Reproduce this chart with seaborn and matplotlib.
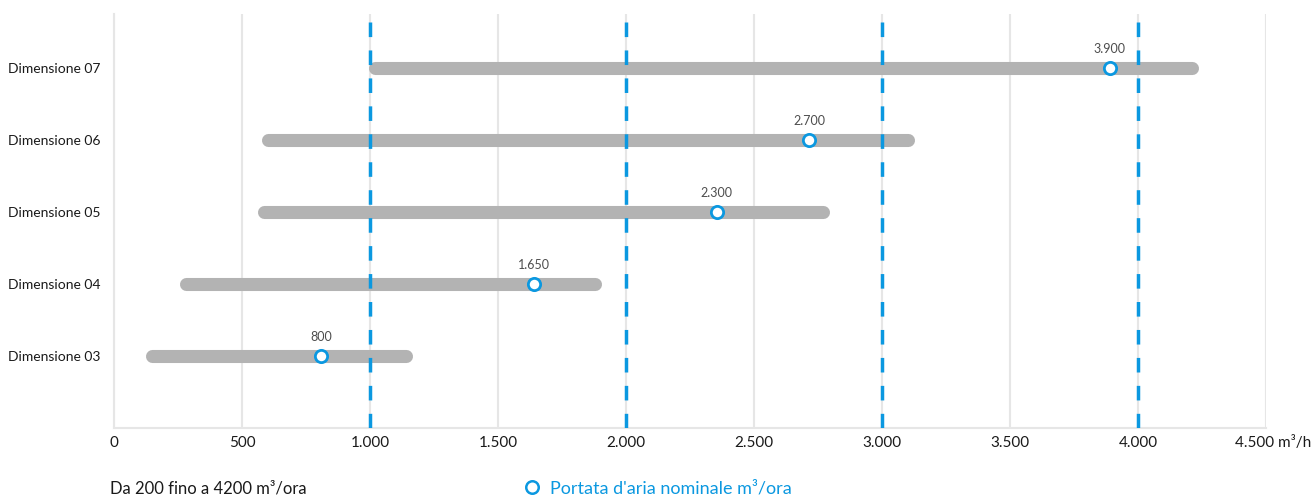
import numpy as np
import pandas as pd
import matplotlib
matplotlib.use("Agg")
import matplotlib.pyplot as plt
import matplotlib.transforms as mtransforms
from matplotlib.lines import Line2D
import seaborn as sns

# ---- data ----
categories = ["Dimensione 07", "Dimensione 06", "Dimensione 05", "Dimensione 04", "Dimensione 03"]
range_min = [1020, 600, 585, 280, 150]
range_max = [4210, 3100, 2770, 1880, 1140]
nominal = [3890, 2715, 2355, 1640, 810]
nominal_labels = ["3.900", "2.700", "2.300", "1.650", "800"]
ref_lines = [1000, 2000, 3000, 4000]
xticks = [0, 500, 1000, 1500, 2000, 2500, 3000, 3500, 4000, 4500]
xtick_labels = ["0", "500", "1.000", "1.500", "2.000", "2.500", "3.000", "3.500", "4.000", "4.500 m³/h"]
range_text = "Da 200 fino a 4200 m³/ora"
legend_text = "Portata d'aria nominale m³/ora"

BLUE = "#0b98e0"
BAR = "#b3b3b3"
GRID = "#e6e6e6"
TEXT = "#1a1a1a"

sns.set_style("white")
plt.rcParams["font.family"] = ["Lato", "DejaVu Sans"]

df = pd.DataFrame({"cat": categories, "lo": range_min, "hi": range_max,
                   "nom": nominal, "lab": nominal_labels})
df["pos"] = np.arange(len(df))

fig = plt.figure(figsize=(13.16, 4.96), dpi=100)
ax = fig.add_axes([114 / 1316, 68 / 496, 1152 / 1316, 414 / 496])

ax.set_xlim(0, 4500)
ax.set_ylim(5.0, -0.75)

# grid
ax.set_xticks(xticks)
ax.grid(axis="x", color=GRID, lw=1.5, zorder=0)
ax.grid(axis="y", visible=False)
ax.set_axisbelow(True)

# range bars
bars = ax.hlines(df["pos"], df["lo"], df["hi"], color=BAR, lw=9.4, zorder=2)
bars.set_capstyle("round")

# reference dashed lines
vl = ax.vlines(ref_lines, -0.75 + 8 / 72, 5.0, color=BLUE, lw=2.5,
               linestyles=[(0, (4.2, 3.85))], zorder=3)
vl.set_capstyle("butt")

# nominal points
sns.scatterplot(data=df, x="nom", y="pos", ax=ax, s=78, marker="o",
                facecolor="white", edgecolor=BLUE, linewidth=2.0, zorder=4,
                legend=False)

for _, r in df.iterrows():
    ax.annotate(r["lab"], (r["nom"], r["pos"]), xytext=(0, 13.5),
                textcoords="offset points", ha="center", va="center",
                fontsize=9, color="#4d4d4d", zorder=5)

# axes styling
for s in ["top", "right"]:
    ax.spines[s].set_visible(False)
for s in ["left", "bottom"]:
    ax.spines[s].set_color(GRID)
    ax.spines[s].set_linewidth(1.5)

ax.set_yticks(df["pos"], categories)
ax.set_xticklabels(xtick_labels)
ax.tick_params(axis="y", length=0, pad=10, labelsize=10, labelcolor=TEXT)
ax.tick_params(axis="x", length=3.6, width=1.5, color=GRID, pad=2,
               labelsize=11, labelcolor=TEXT)
ax.set_xlabel("")
ax.set_ylabel("")

last = ax.get_xticklabels()[-1]
last.set_transform(last.get_transform() +
                   mtransforms.ScaledTranslation(7 / 100, 0, fig.dpi_scale_trans))

fig.text(110 / 1316, 1 - 489 / 496, range_text, ha="left", va="center",
         fontsize=12, color=TEXT)

handle = Line2D([], [], marker="o", ls="", mfc="white", mec=BLUE, mew=1.8, ms=9)
fig.legend([handle], [legend_text], loc="center left",
           bbox_to_anchor=(524 / 1316, 1 - 488 / 496), frameon=False,
           fontsize=13, labelcolor=BLUE, handlelength=0.9, handletextpad=0.55,
           borderpad=0, borderaxespad=0)

fig.savefig("out.png", dpi=100)
